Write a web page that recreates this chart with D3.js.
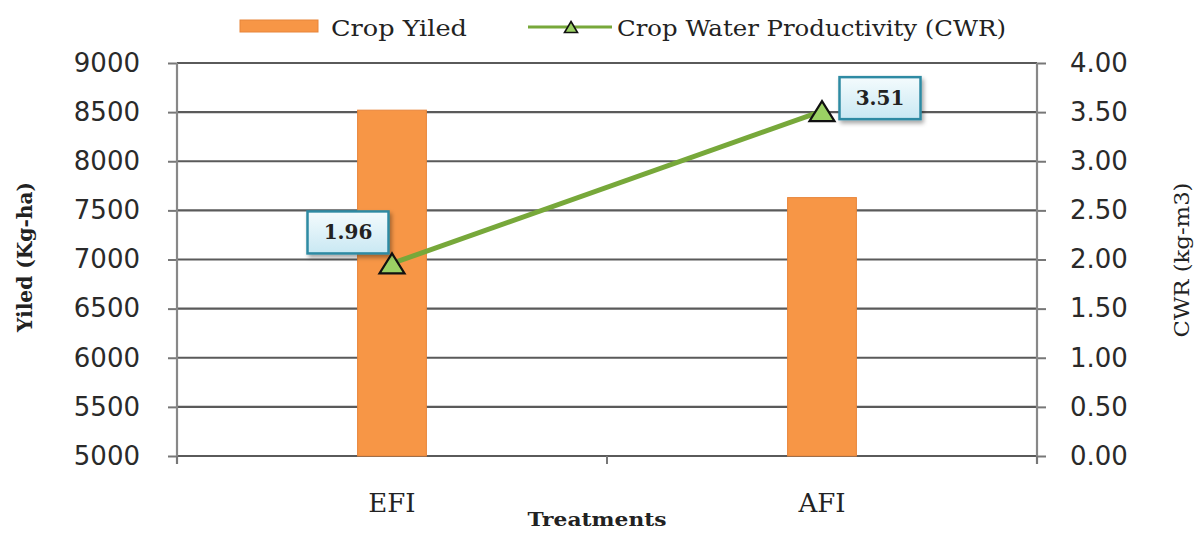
<!DOCTYPE html>
<html>
<head>
<meta charset="utf-8">
<script src="https://cdn.jsdelivr.net/npm/d3@7/dist/d3.min.js"></script>
<style>
  html, body { margin: 0; padding: 0; background: #fff; }
  svg { display: block; }
</style>
</head>
<body>
<svg id="chart" width="1199" height="533"></svg>
<script>
// ---- data ----
const categories = ["EFI", "AFI"];
const cropYield = [8520, 7630];
const cwp = [1.96, 3.51];
const leftTicks = [5000, 5500, 6000, 6500, 7000, 7500, 8000, 8500, 9000];
const rightTicks = [0, 0.5, 1, 1.5, 2, 2.5, 3, 3.5, 4];
const seriesNames = ["Crop Yiled", "Crop Water Productivity (CWR)"];
const axisTitles = { x: "Treatments", yLeft: "Yiled (Kg-ha)", yRight: "CWR (kg-m3)" };

// ---- layout ----
const L = 177, R = 1037, T = 63, B = 456;
const svg = d3.select("#chart");

const defs = svg.append("defs");
const grad = defs.append("linearGradient").attr("id", "lblGrad").attr("x1", 0).attr("y1", 0).attr("x2", 0).attr("y2", 1);
grad.append("stop").attr("offset", "0%").attr("stop-color", "#f4fbfd");
grad.append("stop").attr("offset", "100%").attr("stop-color", "#c9e8f3");
const f = defs.append("filter").attr("id", "shadow").attr("x", "-20%").attr("y", "-20%").attr("width", "150%").attr("height", "160%");
f.append("feDropShadow").attr("dx", 2).attr("dy", 3).attr("stdDeviation", 2).attr("flood-color", "#000").attr("flood-opacity", 0.35);

const x = d3.scaleBand().domain(categories).range([L, R]).paddingInner(0).paddingOuter(0);
const yL = d3.scaleLinear().domain([5000, 9000]).range([B, T]);
const yR = d3.scaleLinear().domain([0, 4]).range([B, T]);
const barFrac = 0.16;

// gridlines
svg.append("g").selectAll("line").data(leftTicks).join("line")
  .attr("x1", L).attr("x2", R)
  .attr("y1", d => yL(d)).attr("y2", d => yL(d))
  .attr("stroke", "#5a5a5a").attr("stroke-width", 2.2);

// left axis
const gL = svg.append("g").attr("transform", `translate(${L},0)`)
  .call(d3.axisLeft(yL).tickValues(leftTicks).tickFormat(d3.format("d")).tickSize(9).tickPadding(28));
gL.select(".domain").remove();
gL.selectAll(".tick line").attr("stroke", "#777").attr("stroke-width", 2);
gL.selectAll(".tick text").attr("font-family", "DejaVu Sans, Verdana, sans-serif").attr("font-size", 26).attr("fill", "#2a2a2a");
svg.append("line").attr("x1", L).attr("x2", L).attr("y1", T).attr("y2", B + 8).attr("stroke", "#888").attr("stroke-width", 2.2);

// right axis
const gR = svg.append("g").attr("transform", `translate(${R},0)`)
  .call(d3.axisRight(yR).tickValues(rightTicks).tickFormat(d3.format(".2f")).tickSize(9).tickPadding(24));
gR.select(".domain").remove();
gR.selectAll(".tick line").attr("stroke", "#777").attr("stroke-width", 2);
gR.selectAll(".tick text").attr("font-family", "DejaVu Sans, Verdana, sans-serif").attr("font-size", 26).attr("fill", "#2a2a2a");
svg.append("line").attr("x1", R).attr("x2", R).attr("y1", T).attr("y2", B + 8).attr("stroke", "#888").attr("stroke-width", 2.2);

// x axis ticks (category boundaries)
const bounds = [L, ...categories.slice(1).map(c => x(c)), R];
svg.append("g").selectAll("line").data(bounds).join("line")
  .attr("x1", d => d).attr("x2", d => d).attr("y1", B).attr("y2", B + 8)
  .attr("stroke", "#777").attr("stroke-width", 2);

// category labels
svg.append("g").selectAll("text").data(categories).join("text")
  .attr("x", d => x(d) + x.bandwidth() / 2).attr("y", 512)
  .attr("text-anchor", "middle")
  .attr("font-family", "DejaVu Serif, serif").attr("font-size", 26).attr("fill", "#222")
  .text(d => d);

// bars
const bw = x.bandwidth() * barFrac;
svg.append("g").selectAll("rect").data(categories).join("rect")
  .attr("x", (d) => x(d) + x.bandwidth() / 2 - bw / 2)
  .attr("width", bw)
  .attr("y", (d, i) => yL(cropYield[i]))
  .attr("height", (d, i) => yL(5000) - yL(cropYield[i]))
  .attr("fill", "#f79646").attr("stroke", "#e8853a").attr("stroke-width", 1);

// line
const pts = categories.map((c, i) => [x(c) + x.bandwidth() / 2, yR(cwp[i])]);
svg.append("path").attr("d", d3.line()(pts))
  .attr("fill", "none").attr("stroke", "#77a83a").attr("stroke-width", 5);

// triangle markers
const tri = (cx, cy, w, h) => `M${cx},${cy - h / 2}L${cx + w / 2},${cy + h / 2}L${cx - w / 2},${cy + h / 2}Z`;
svg.append("g").selectAll("path").data(pts).join("path")
  .attr("d", d => tri(d[0], d[1], 25, 20))
  .attr("fill", "#9bd164").attr("stroke", "#111").attr("stroke-width", 2.2).attr("stroke-linejoin", "miter");

// data labels
const lblOff = [[-44, -31], [58, -13]]; // centre offsets from point
const lblW = 81, lblH = 42;
const lg = svg.append("g");
pts.forEach((p, i) => {
  const cx = p[0] + lblOff[i][0], cy = p[1] + lblOff[i][1];
  lg.append("rect").attr("x", cx - lblW / 2).attr("y", cy - lblH / 2).attr("width", lblW).attr("height", lblH)
    .attr("fill", "url(#lblGrad)").attr("stroke", "#2f8aa3").attr("stroke-width", 2.5)
    .attr("filter", "url(#shadow)");
  lg.append("text").attr("x", cx).attr("y", cy + 7).attr("text-anchor", "middle")
    .attr("font-family", "DejaVu Serif, serif").attr("font-weight", "bold").attr("font-size", 20).attr("fill", "#222")
    .text(d3.format(".2f")(cwp[i]));
});

// legend
const leg = svg.append("g");
leg.append("rect").attr("x", 240).attr("y", 20).attr("width", 78).attr("height", 12)
  .attr("fill", "#f79646").attr("stroke", "#e8853a");
leg.append("text").attr("x", 331).attr("y", 36).attr("font-family", "DejaVu Serif, serif").attr("font-size", 23)
  .attr("fill", "#222").attr("textLength", 136).attr("lengthAdjust", "spacingAndGlyphs").text(seriesNames[0]);
leg.append("line").attr("x1", 528).attr("x2", 612).attr("y1", 27).attr("y2", 27).attr("stroke", "#77a83a").attr("stroke-width", 3);
leg.append("path").attr("d", tri(571, 27, 13, 11)).attr("fill", "#9bd164").attr("stroke", "#111").attr("stroke-width", 1.6);
leg.append("text").attr("x", 617).attr("y", 36).attr("font-family", "DejaVu Serif, serif").attr("font-size", 23)
  .attr("fill", "#222").attr("textLength", 389).attr("lengthAdjust", "spacingAndGlyphs").text(seriesNames[1]);

// axis titles
svg.append("text").attr("x", 597).attr("y", 526).attr("text-anchor", "middle")
  .attr("font-family", "DejaVu Serif, serif").attr("font-weight", "bold").attr("font-size", 19).attr("fill", "#222")
  .attr("textLength", 139).attr("lengthAdjust", "spacingAndGlyphs").text(axisTitles.x);
svg.append("text").attr("transform", "translate(32,257) rotate(-90)").attr("text-anchor", "middle")
  .attr("font-family", "DejaVu Serif, serif").attr("font-weight", "bold").attr("font-size", 20).attr("fill", "#222")
  .attr("textLength", 150).attr("lengthAdjust", "spacingAndGlyphs").text(axisTitles.yLeft);
svg.append("text").attr("transform", "translate(1189,260) rotate(-90)").attr("text-anchor", "middle")
  .attr("font-family", "DejaVu Serif, serif").attr("font-size", 21).attr("fill", "#222")
  .attr("textLength", 155).attr("lengthAdjust", "spacingAndGlyphs").text(axisTitles.yRight);
</script>
</body>
</html>
